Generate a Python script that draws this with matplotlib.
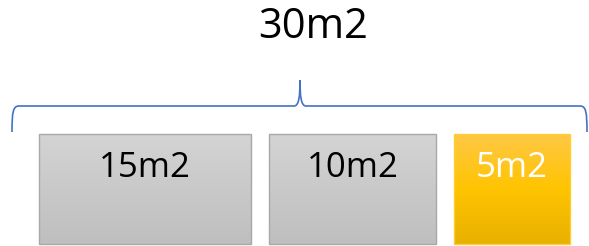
import numpy as np
import matplotlib
matplotlib.use('agg')
import matplotlib.pyplot as plt
from matplotlib.path import Path
from matplotlib.patches import PathPatch, Rectangle
from matplotlib.colors import LinearSegmentedColormap

# data
total_label = "30m2"
part_labels = ["15m2", "10m2", "5m2"]
part_values = [15, 10, 5]

# layout (pixels, image coords)
box_x = [(39, 251), (269, 436), (454, 570)]
box_top, box_bottom = 134, 244
box_cols = [["#d4d4d4", "#c9c9c9", "#bfbfbf"],
            ["#d4d4d4", "#c9c9c9", "#bfbfbf"],
            ["#ffc845", "#ffc400", "#e8b000"]]
edge_cols = ["#a8a8a8", "#a8a8a8", "#ffcc33"]
text_cols = ["black", "black", "white"]

W, H = 589, 246
fig = plt.figure(figsize=(W / 100, H / 100), dpi=100)
ax = fig.add_axes([0, 0, 1, 1])
ax.set_xlim(0, W)
ax.set_ylim(H, 0)
ax.axis('off')

grad = np.linspace(0, 1, 256).reshape(-1, 1)
for (x0, x1), cols, ec, tc, lab in zip(box_x, box_cols, edge_cols, text_cols, part_labels):
    cmap = LinearSegmentedColormap.from_list('g', cols)
    ax.imshow(grad, cmap=cmap, aspect='auto', extent=(x0, x1, box_bottom, box_top),
              interpolation='bilinear', zorder=1)
    ax.add_patch(Rectangle((x0, box_top), x1 - x0, box_bottom - box_top,
                           fill=False, edgecolor=ec, linewidth=1.0, zorder=2))
    ax.text((x0 + x1) / 2, 168, lab, ha='center', va='center', color=tc,
            fontsize=25, family='Open Sans', zorder=3)

ax.set_xlim(0, W)
ax.set_ylim(H, 0)

# curly brace
verts = [(12, 132), (12, 112), (13, 106), (19, 106),
         (294, 106),
         (299, 106), (300, 96), (300, 80),
         (300, 96), (301, 106), (306, 106),
         (580, 106),
         (586, 106), (587, 112), (587, 132)]
codes = [Path.MOVETO, Path.CURVE4, Path.CURVE4, Path.CURVE4,
         Path.LINETO,
         Path.CURVE4, Path.CURVE4, Path.CURVE4,
         Path.CURVE4, Path.CURVE4, Path.CURVE4,
         Path.LINETO,
         Path.CURVE4, Path.CURVE4, Path.CURVE4]
ax.add_patch(PathPatch(Path(verts, codes), fill=False, edgecolor="#4472c4",
                       linewidth=1.2, zorder=3))

ax.text(313, 27, total_label, ha='center', va='center', color='black',
        fontsize=30, family='Open Sans')

fig.savefig("out.png", dpi=100)
